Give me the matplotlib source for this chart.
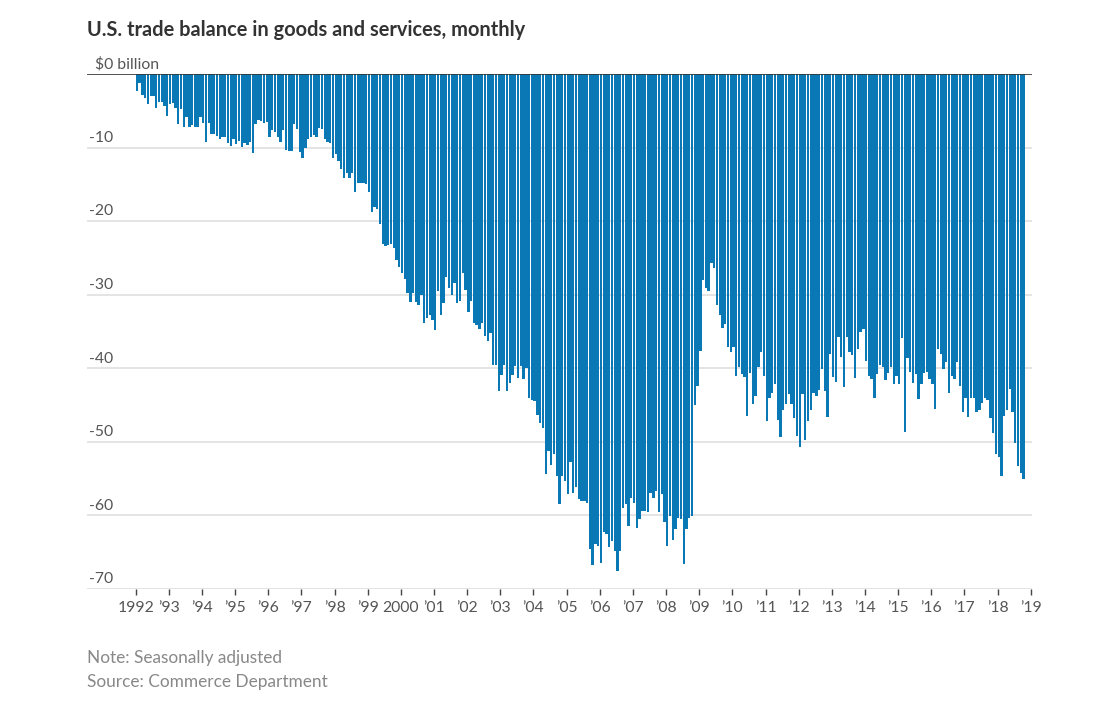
import matplotlib
matplotlib.use("Agg")
import matplotlib.pyplot as plt
import matplotlib.transforms as mtrans
import numpy as np

# monthly U.S. trade balance, $ billion (Jan 1992 - Oct 2018)
y1992 = [-2.3, -1.2, -2.8, -3.2, -4.1, -3.0, -3.0, -4.6, -3.8, -3.8, -4.4, -5.7]
y1993 = [-4.1, -4.0, -4.6, -6.8, -4.7, -7.2, -5.9, -7.2, -6.9, -7.2, -7.2, -5.9]
y1994 = [-6.6, -9.3, -6.7, -8.2, -8.2, -8.4, -8.8, -8.5, -8.5, -9.4, -9.8, -8.8]
y1995 = [-9.5, -9.1, -9.9, -9.4, -9.6, -9.2, -10.8, -6.8, -6.2, -6.4, -6.6, -6.5]
y1996 = [-8.6, -7.6, -7.9, -8.6, -9.3, -7.6, -10.3, -10.5, -10.4, -6.8, -7.5, -10.6]
y1997 = [-11.4, -10.0, -8.8, -8.5, -8.3, -8.5, -7.3, -7.5, -8.9, -9.3, -9.4, -11.4]
y1998 = [-10.9, -11.8, -12.9, -14.2, -13.4, -14.2, -13.4, -16.1, -14.8, -14.8, -14.8, -15.0]
y1999 = [-16.1, -18.8, -18.1, -18.3, -20.4, -23.1, -23.4, -23.2, -23.1, -23.6, -25.3, -26.2]
y2000 = [-27.1, -27.8, -29.8, -31.0, -29.8, -31.0, -31.4, -30.0, -33.9, -33.2, -32.7, -33.4]
y2001 = [-34.8, -29.5, -32.7, -31.1, -27.6, -29.1, -30.0, -28.4, -31.1, -30.9, -27.1, -29.3]
y2002 = [-32.3, -30.9, -33.8, -34.1, -34.7, -33.8, -35.6, -36.3, -35.2, -39.5, -39.5, -43.1]
y2003 = [-40.9, -39.5, -43.1, -42.0, -40.9, -39.7, -41.3, -39.7, -41.5, -40.0, -44.0, -44.3]
y2004 = [-44.5, -46.3, -47.4, -48.1, -54.4, -51.3, -53.1, -51.7, -54.6, -58.5, -54.6, -55.3]
y2005 = [-57.1, -52.8, -56.9, -56.2, -57.8, -58.0, -58.0, -58.3, -64.6, -66.8, -63.9, -64.2]
y2006 = [-66.4, -62.3, -62.5, -64.3, -63.5, -64.8, -67.6, -64.8, -59.0, -58.5, -61.5, -57.6]
y2007 = [-58.3, -61.7, -60.5, -59.4, -59.4, -59.6, -56.9, -57.6, -56.7, -59.6, -57.1, -60.9]
y2008 = [-64.2, -60.1, -63.3, -61.9, -60.3, -60.5, -66.6, -61.9, -60.3, -60.1, -45.0, -42.4]
y2009 = [-37.7, -28.0, -29.1, -29.5, -25.7, -26.4, -31.4, -32.7, -34.5, -34.0, -37.1, -37.8]
y2010 = [-37.1, -41.0, -39.8, -40.8, -41.2, -46.5, -40.7, -44.8, -43.7, -39.8, -37.8, -41.0]
y2011 = [-47.1, -44.0, -43.4, -42.1, -47.0, -49.3, -45.7, -44.8, -43.5, -44.8, -46.8, -49.2]
y2012 = [-50.7, -43.5, -49.8, -47.1, -45.7, -43.4, -43.7, -43.0, -40.1, -43.1, -46.6, -38.0]
y2013 = [-41.2, -41.9, -35.7, -38.5, -42.5, -35.7, -37.8, -38.2, -41.3, -37.4, -35.1, -34.7]
y2014 = [-39.0, -41.0, -41.5, -44.0, -40.8, -39.6, -39.8, -41.6, -40.7, -39.8, -42.1, -41.0]
y2015 = [-42.1, -35.9, -48.6, -38.6, -40.5, -42.0, -40.8, -44.2, -42.1, -40.7, -40.5, -41.5]
y2016 = [-42.1, -45.6, -37.4, -38.0, -40.1, -39.2, -43.4, -41.0, -41.4, -39.1, -42.4, -45.9]
y2017 = [-44.1, -46.6, -44.1, -44.1, -45.9, -45.7, -44.7, -44.1, -44.3, -46.8, -48.8, -51.7]
y2018 = [-52.0, -54.7, -46.5, -45.7, -42.8, -46.0, -50.2, -53.3, -54.2, -55.1]

balance = (y1992 + y1993 + y1994 + y1995 + y1996 + y1997 + y1998 + y1999
           + y2000 + y2001 + y2002 + y2003 + y2004 + y2005 + y2006 + y2007
           + y2008 + y2009 + y2010 + y2011 + y2012 + y2013 + y2014 + y2015
           + y2016 + y2017 + y2018)

tick_years = list(range(1992, 2020))
tick_labels = ["1992" if yr == 1992 else "2000" if yr == 2000 else "\u2019%02d" % (yr % 100)
               for yr in tick_years]
y_levels = [-10, -20, -30, -40, -50, -60, -70]

plt.rcParams['font.family'] = ['Lato', 'DejaVu Sans']

fig = plt.figure(figsize=(10.98, 7.17), dpi=100)
ax = fig.add_axes([87 / 1098, 1 - 589 / 717, 945 / 1098, 515 / 717])

months = 1992 + np.arange(len(balance)) / 12.0
ax.bar(months, balance, width=0.84 / 12, align='edge', color='#0a78b4',
       linewidth=0, zorder=2)

ax.set_xlim(1990.53, 2019.04)
ax.set_ylim(-70, 0)

for sp in ax.spines.values():
    sp.set_visible(False)

ax.set_yticks(y_levels)
ax.yaxis.grid(True, color='#e4e4e4', linewidth=1.4, zorder=0)
ax.set_axisbelow(True)
ax.tick_params(axis='y', length=0, labelleft=False)
ax.axhline(0, color='#333333', linewidth=1.2, zorder=3)

ax.set_xticks(tick_years)
ax.set_xticklabels(tick_labels)
ax.tick_params(axis='x', length=4, width=1, color='#444444', pad=5,
               labelsize=11.3, labelcolor='#555555')

trans = mtrans.blended_transform_factory(ax.transAxes, ax.transData)
off = mtrans.offset_copy(trans, fig=fig, y=2, units='points')
ax.text(0.008, 0, "$0 billion", transform=off, ha='left', va='bottom',
        fontsize=11.3, color='#555555')
for lv in y_levels:
    ax.text(0.002, lv, "%d" % lv, transform=off, ha='left', va='bottom',
            fontsize=11.3, color='#555555')

fig.text(87 / 1098, 1 - 30 / 717, "U.S. trade balance in goods and services, monthly",
         ha='left', va='center', fontsize=14.4, fontweight='bold', color='#333333')
fig.text(87 / 1098, 1 - 658 / 717, "Note: Seasonally adjusted",
         ha='left', va='center', fontsize=12.4, color='#888888')
fig.text(87 / 1098, 1 - 682 / 717, "Source: Commerce Department",
         ha='left', va='center', fontsize=12.4, color='#888888')

fig.savefig("out.png", dpi=100)
